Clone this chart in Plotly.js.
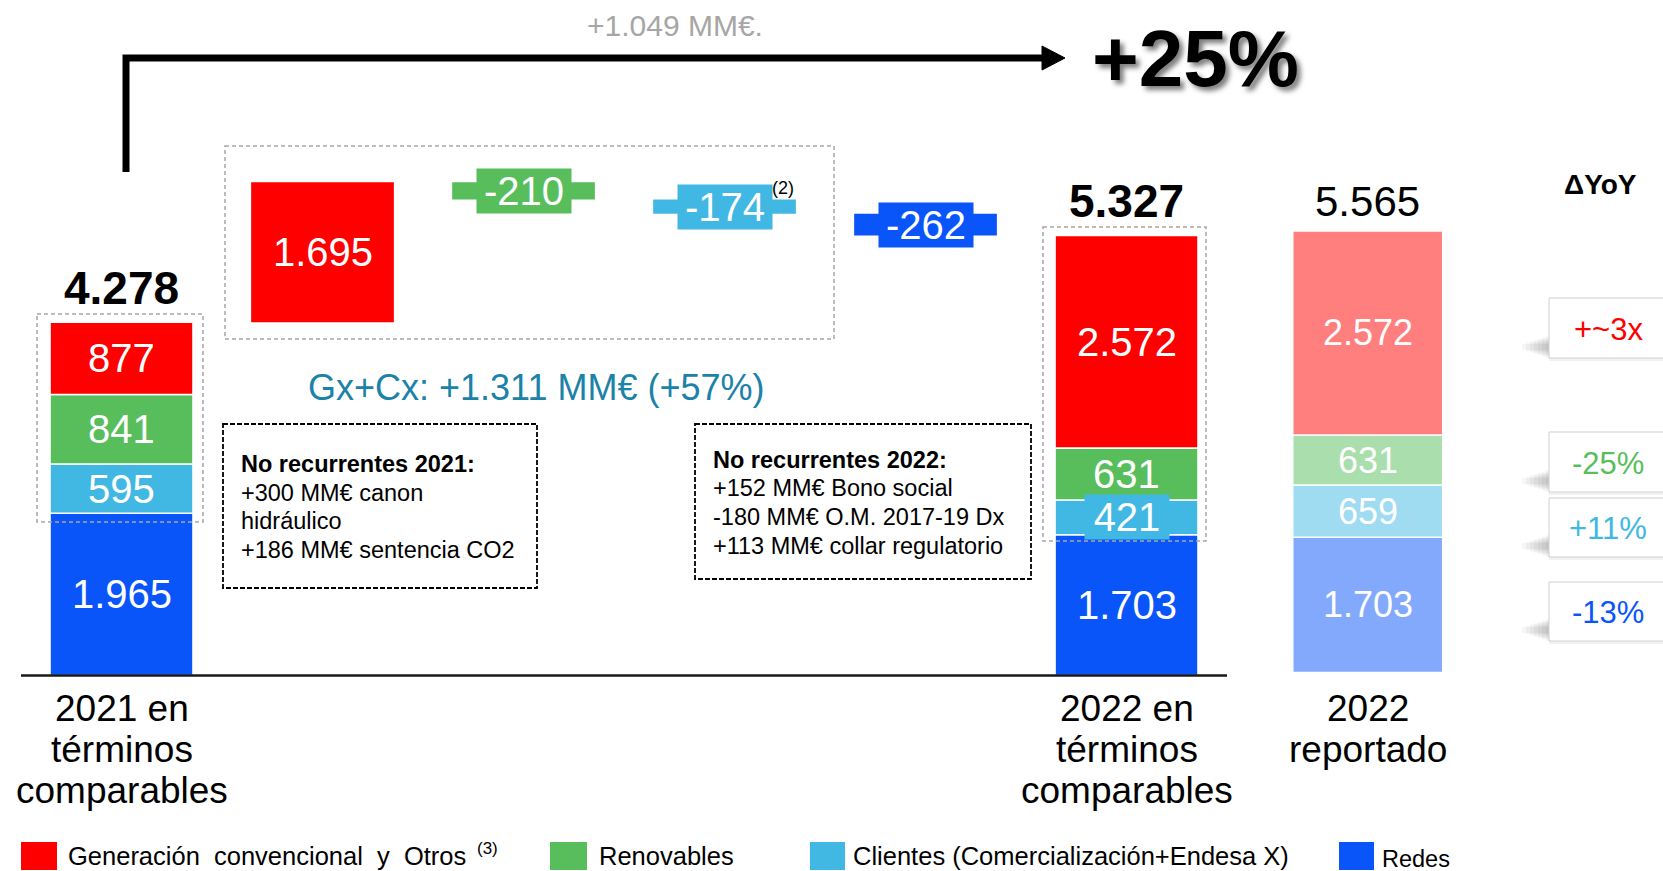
<!DOCTYPE html>
<html><head><meta charset="utf-8">
<script src="https://cdn.plot.ly/plotly-3.0.1.min.js"></script>
<style>html,body{margin:0;padding:0;background:#fff;}#chart{width:1663px;height:871px;}</style>
</head><body><div id="chart"></div>
<script>
// ---------------- data ----------------
const categories = ["2021 en términos comparables", "2022 en términos comparables", "2022 reportado"];
const catLines = [["2021 en", "términos", "comparables"], ["2022 en", "términos", "comparables"], ["2022", "reportado"]];
const catX = [0, 5, 6.2];
const series = ["Generación convencional y Otros", "Renovables", "Clientes (Comercialización+Endesa X)", "Redes"];
const generacion = [877, 2572, 2572];
const renovables = [841, 631, 631];
const clientes = [595, 421, 659];
const redes = [1965, 1703, 1703];
const totals = [4278, 5327, 5565];
const bridgeX = [1, 2, 3, 4];
const bridgeDelta = [1695, -210, -174, -262];
const yoyLabels = ["+~3x", "-25%", "+11%", "-13%"];
const colors = ["#FF0000", "#58BE5C", "#41B8E4", "#0955FA"];
const notes2021 = ["<b>No recurrentes 2021:</b>", "+300 MM€ canon", "hidráulico", "+186 MM€ sentencia CO2"];
const notes2022 = ["<b>No recurrentes 2022:</b>", "+152 MM€ Bono social", "-180 MM€ O.M. 2017-19 Dx", "+113 MM€ collar regulatorio"];
const growthLabel = "+1.049 MM€.";
const growthPct = "+25%";
const gxcxLabel = "Gx+Cx: +1.311 MM€ (+57%)";

// ---------------- helpers ----------------
const W = 1663, H = 871;
const PX = x => x / W, PY = y => 1 - y / H;
const FONT = "Liberation Sans, Arial, Helvetica, sans-serif";
const K1 = 0.0826, K2 = 0.07934; // px per unit on y and y2
function fmt(v) {
  const s = Math.abs(v).toString().replace(/\B(?=(\d{3})+(?!\d))/g, ".");
  return (v < 0 ? "-" : "") + s;
}
function pann(text, x, y, font, extra) {
  return Object.assign({text: text, xref: 'paper', yref: 'paper', x: PX(x), y: PY(y), showarrow: false,
    xanchor: 'center', yanchor: 'middle', font: Object.assign({family: FONT, color: '#000'}, font)}, extra || {});
}
function prect(x0, y0, x1, y1, line, fill, extra) {
  return Object.assign({type: 'rect', xref: 'paper', yref: 'paper', x0: PX(x0), x1: PX(x1), y0: PY(y0), y1: PY(y1),
    line: line, fillcolor: fill || 'rgba(0,0,0,0)'}, extra || {});
}

const traces = [];
const annotations = [];
const shapes = [];

// ---------------- stacked bars ----------------
const stackOrder = [redes, clientes, renovables, generacion];
const stackColorIdx = [3, 2, 1, 0];
let cum = [0, 0, 0];
stackOrder.forEach((vals, k) => {
  const ci = stackColorIdx[k];
  const base = cum.slice();
  traces.push({type: 'bar', x: [catX[0], catX[1]], y: [vals[0], vals[1]], base: [base[0], base[1]],
    width: [0.711, 0.711], name: series[ci], hoverinfo: 'skip', showlegend: false,
    marker: {color: colors[ci], line: {color: '#ffffff', width: 1.5}}});
  traces.push({type: 'bar', x: [catX[2]], y: [vals[2]], base: [base[2]], width: [0.746], yaxis: 'y2',
    name: series[ci], hoverinfo: 'skip', showlegend: false,
    marker: {color: colors[ci], opacity: 0.5, line: {color: '#ffffff', width: 1.5}}});
  for (let i = 0; i < 3; i++) {
    const k_ = i < 2 ? K1 : K2;
    const a = {text: fmt(vals[i]), x: catX[i], y: base[i] + vals[i] / 2, xref: 'x', yref: i < 2 ? 'y' : 'y2',
      showarrow: false, xanchor: 'center', yanchor: 'middle',
      font: {family: FONT, size: i < 2 ? 40 : 36, color: '#ffffff'}};
    if (vals[i] * k_ < 40) { a.bgcolor = colors[ci]; a.width = 84; a.height = 44; a.borderpad = 0; }
    annotations.push(a);
  }
  cum = cum.map((c, i) => c + vals[i]);
});

// ---------------- bridge ----------------
const bridgeBase = [];
let run = totals[0];
bridgeDelta.forEach(d => { bridgeBase.push(run); run += d; });
traces.push({type: 'bar', x: bridgeX, y: bridgeDelta, base: bridgeBase, width: 0.71, hoverinfo: 'skip',
  showlegend: false, marker: {color: colors}});
bridgeDelta.forEach((d, i) => {
  const a = {text: fmt(d), x: bridgeX[i], y: bridgeBase[i] + d / 2, xref: 'x', yref: 'y', showarrow: false,
    xanchor: 'center', yanchor: 'middle', font: {family: FONT, size: 40, color: '#ffffff'}};
  if (Math.abs(d) * K1 < 40) { a.bgcolor = colors[i]; a.width = 94; a.height = 44; a.borderpad = 0; }
  annotations.push(a);
});
annotations.push(pann("(2)", 783, 188, {size: 18}));

// ---------------- totals ----------------
totals.forEach((t, i) => {
  annotations.push({text: i < 2 ? "<b>" + fmt(t) + "</b>" : fmt(t), x: catX[i], y: t, xref: 'x',
    yref: i < 2 ? 'y' : 'y2', yshift: i < 2 ? 34 : 29, showarrow: false, xanchor: 'center', yanchor: 'middle',
    font: {family: FONT, size: i < 2 ? 46 : 42, color: '#000'}});
});

// ---------------- category labels ----------------
catLines.forEach((lines, i) => {
  lines.forEach((ln, j) => {
    annotations.push({text: ln, x: catX[i], xref: 'x', yref: 'paper', y: PY(708.5 + 41 * j), showarrow: false,
      xanchor: 'center', yanchor: 'middle', font: {family: FONT, size: 37, color: '#000'}});
  });
});

// baseline
shapes.push({type: 'line', xref: 'paper', yref: 'y', x0: PX(21), x1: PX(1227), y0: 0, y1: 0,
  line: {color: '#1a1a1a', width: 2.5}});

// dashed grey frames
const greyDash = {color: '#a6a6a6', width: 1.5, dash: '4px,3px'};
shapes.push(prect(37, 314, 203, 522, greyDash));
shapes.push(prect(225, 146, 834, 339, greyDash));
shapes.push(prect(1043, 227, 1206, 541, greyDash));

// black dashed note boxes
const blackDash = {color: '#000', width: 1.8, dash: '5px,2px'};
shapes.push(prect(223, 424, 537, 588, blackDash));
shapes.push(prect(695, 424, 1031, 579, blackDash));
const noteY1 = [464, 493, 521, 550], noteY2 = [460, 488, 517, 546];
notes2021.forEach((t, j) => annotations.push(pann(t, 239, noteY1[j], {size: 23.5}, {xanchor: 'left', align: 'left'})));
notes2022.forEach((t, j) => annotations.push(pann(t, 711, noteY2[j], {size: 23.5}, {xanchor: 'left', align: 'left'})));

// arrow
shapes.push({type: 'path', xref: 'paper', yref: 'paper',
  path: `M ${PX(126)} ${PY(172)} L ${PX(126)} ${PY(58)} L ${PX(1046)} ${PY(58)}`,
  line: {color: '#000', width: 7}});
shapes.push({type: 'path', xref: 'paper', yref: 'paper',
  path: `M ${PX(1042)} ${PY(46)} L ${PX(1065)} ${PY(58)} L ${PX(1042)} ${PY(70)} Z`,
  line: {color: '#000', width: 1}, fillcolor: '#000'});

annotations.push(pann(growthLabel, 675, 26, {size: 30, color: '#a6a6a6'}));
annotations.push(pann("<b>" + growthPct + "</b>", 1195, 58, {size: 80, color: '#000', shadow: '4px 4px 5px rgba(0,0,0,0.5)'}));
annotations.push(pann(gxcxLabel, 536, 387, {size: 36, color: '#1b82a8'}));

// ΔYoY
annotations.push(pann("<b>ΔYoY</b>", 1600, 184, {size: 28}));
const yoyBoxes = [[298, 358], [432, 492], [498, 557], [582, 641]];
const yoyColorIdx = [0, 1, 2, 3];
yoyLabels.forEach((t, i) => {
  const [y0, y1] = yoyBoxes[i];
  const c = y1 - 11;
  for (let s = 0; s < 7; s++) {
    shapes.push(prect(1522 + 4 * s, c - 3 - 1.3 * s, 1550, c + 3 + 1.3 * s, {width: 0}, 'rgba(0,0,0,0.035)'));
  }
  shapes.push(prect(1549, y1, 1668, y1 + 3, {width: 0}, 'rgba(0,0,0,0.05)'));
  shapes.push(prect(1549, y0, 1668, y1, {color: '#d0d0d0', width: 1}, '#ffffff'));
  annotations.push(pann(t, 1608, (y0 + y1) / 2 + 1, {size: 31, color: colors[yoyColorIdx[i]]}));
});

// legend (custom)
const legSq = [[21, 57], [550, 587], [810, 845], [1339, 1374]];
const legTx = [66, 597, 851, 1380];
const legSize = [25.5, 25.5, 25.5, 23.5];
const legY = [856, 856, 856, 859];
series.forEach((s, i) => {
  shapes.push(prect(legSq[i][0], 842, legSq[i][1], 870, {width: 0}, colors[i]));
  const shown = i === 0 ? s.split(" ").join("\u00A0 ") : s;
  annotations.push(pann(shown, legTx[i], legY[i], {size: legSize[i]}, {xanchor: 'left'}));
});
annotations.push(pann("(3)", 487, 848, {size: 17}));

const layout = {
  width: W, height: H, margin: {l: 0, r: 0, t: 0, b: 0},
  paper_bgcolor: '#ffffff', plot_bgcolor: '#ffffff', showlegend: false, barmode: 'overlay',
  xaxis: {range: [-0.6045, 7.669], visible: false, fixedrange: true},
  yaxis: {range: [-2367, 8178], visible: false, fixedrange: true},
  yaxis2: {range: [-2502, 8476], visible: false, overlaying: 'y', fixedrange: true},
  annotations: annotations, shapes: shapes, font: {family: FONT}
};
Plotly.newPlot('chart', traces, layout, {staticPlot: true, displayModeBar: false});
</script>
</body></html>
